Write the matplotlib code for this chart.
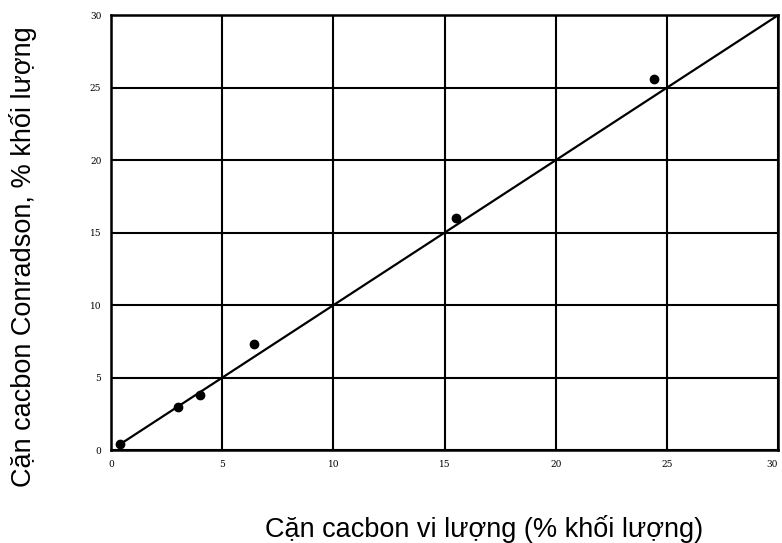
import numpy as np
import matplotlib.pyplot as plt

# micro carbon residue vs Conradson carbon residue (% wt)
micro = [0.4, 3.0, 4.0, 6.45, 15.5, 24.4]
conradson = [0.4, 2.95, 3.8, 7.3, 16.0, 25.6]
lineX = [0.6, 30]
lineY = [0.6, 30]
ticks = [0, 5, 10, 15, 20, 25, 30]

plt.rcParams['font.family'] = ['Liberation Sans', 'DejaVu Sans']

fig = plt.figure(figsize=(7.82, 5.43), dpi=100)
ax = fig.add_axes([0.142, 0.171, 0.853, 0.801])

ax.plot(lineX, lineY, 'k-', lw=1.6)
ax.plot(micro, conradson, 'ko', ms=6)

ax.set_xlim(0, 30)
ax.set_ylim(0, 30)
ax.set_xticks(ticks)
ax.set_yticks(ticks)
ax.set_xticklabels([str(t) for t in ticks], fontsize=6.5, family='DejaVu Serif')
ax.set_yticklabels([str(t) for t in ticks], fontsize=6.5, family='DejaVu Serif')
ax.get_xticklabels()[-1].set_ha('right')
ax.tick_params(length=0, pad=7)
ax.grid(True, color='k', lw=1.5)
for s in ax.spines.values():
    s.set_linewidth(1.8)

fig.text(0.619, 0.011, 'Cặn cacbon vi lượng (% khối lượng)', ha='center', va='baseline',
         fontsize=19.5)
fig.text(0.029, 0.527, 'Cặn cacbon Conradson, % khối lượng', ha='center', va='center',
         rotation=90, fontsize=19.5)

fig.savefig('out.png', dpi=100)
